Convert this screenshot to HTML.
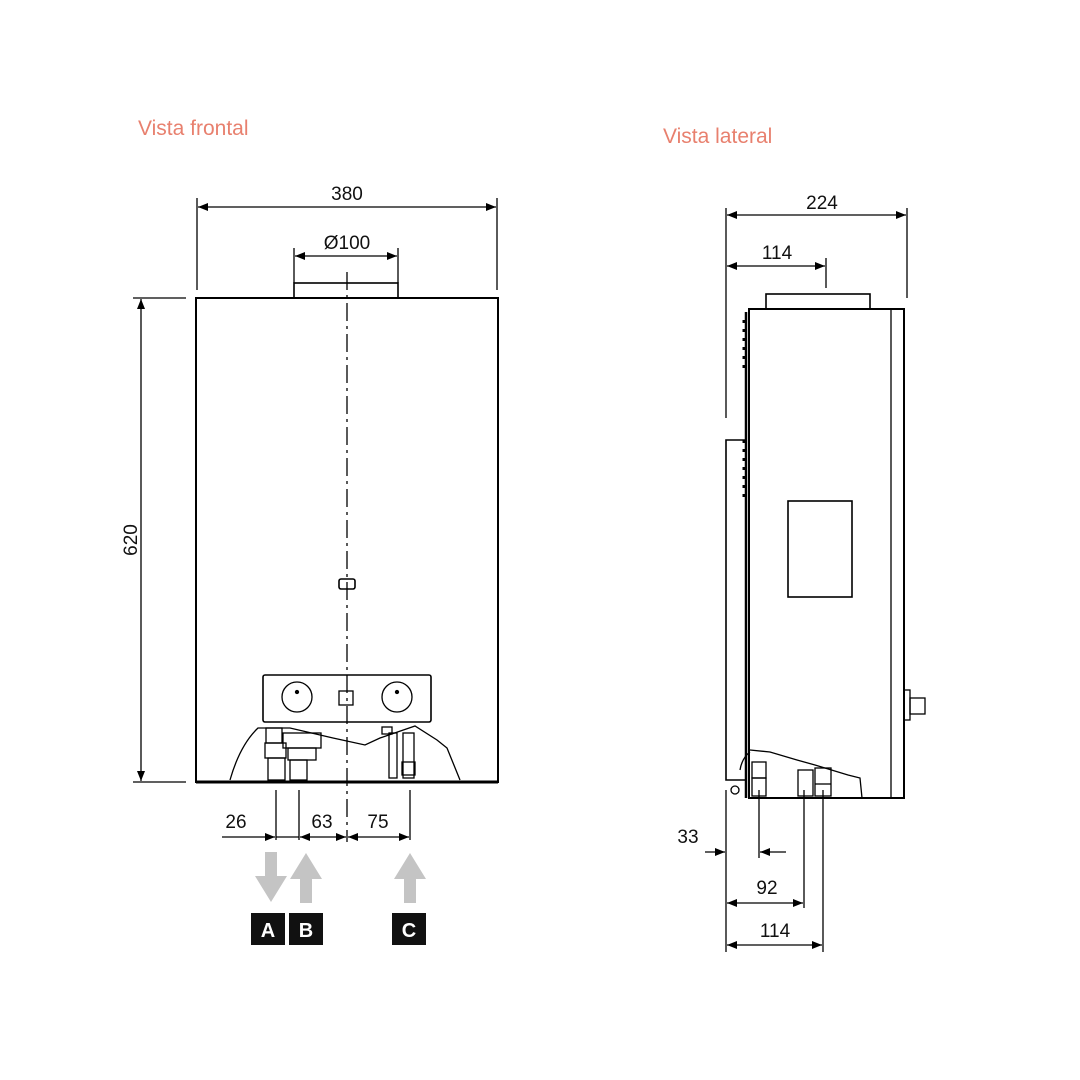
<!DOCTYPE html>
<html><head><meta charset="utf-8"><style>body{margin:0;background:#fff}svg{display:block}</style></head>
<body>
<svg width="1080" height="1080" viewBox="0 0 1080 1080" xmlns="http://www.w3.org/2000/svg" font-family="Liberation Sans, sans-serif">
<defs>
<marker id="ar" viewBox="0 0 10 10" refX="10" refY="5" markerWidth="14" markerHeight="10" orient="auto-start-reverse" markerUnits="userSpaceOnUse"><path d="M0,1 L10,5 L0,9 z" fill="#000"/></marker>
</defs>
<text x="138" y="135" font-size="21" fill="#e8806e">Vista frontal</text>
<text x="663" y="143" font-size="21" fill="#e8806e">Vista lateral</text>

<g stroke="#000" fill="none" stroke-width="1.3">
<!-- front dims -->
<line x1="197" y1="198" x2="197" y2="290"/><line x1="497" y1="198" x2="497" y2="290"/>
<line x1="198" y1="207" x2="496" y2="207" marker-start="url(#ar)" marker-end="url(#ar)"/>
<line x1="294" y1="248" x2="294" y2="283"/><line x1="398" y1="248" x2="398" y2="283"/>
<line x1="295" y1="256" x2="397" y2="256" marker-start="url(#ar)" marker-end="url(#ar)"/>
<line x1="133" y1="298" x2="186" y2="298"/><line x1="133" y1="782" x2="186" y2="782"/>
<line x1="141" y1="299" x2="141" y2="781" marker-start="url(#ar)" marker-end="url(#ar)"/>
<!-- front body -->
<rect x="196" y="298" width="302" height="484" stroke-width="2"/>
<line x1="196" y1="782" x2="498" y2="782" stroke-width="3"/>
<rect x="294" y="283" width="104" height="15" stroke-width="1.6"/>
<line x1="347" y1="272" x2="347" y2="842" stroke-dasharray="18,5,3,5"/>
<rect x="339" y="579" width="16" height="10" rx="2" stroke-width="1.6"/>
<rect x="263" y="675" width="168" height="47" rx="2" stroke-width="1.6"/>
<circle cx="297" cy="697" r="15"/><circle cx="397" cy="697" r="15"/>
<circle cx="297" cy="692" r="1.5" fill="#000"/><circle cx="397" cy="692" r="1.5" fill="#000"/>
<rect x="339" y="691" width="14" height="14"/>
<path d="M230,780 Q240,745 258,728 L290,728 L333,738 L365,745 L380,738 L415,726 L437,740 L447,748 L460,780"/>
<rect x="266" y="728" width="16" height="15"/><rect x="265" y="743" width="21" height="15"/>
<rect x="268" y="758" width="17" height="22"/><rect x="290" y="760" width="17" height="20"/>
<rect x="288" y="748" width="28" height="12"/><rect x="283" y="733" width="38" height="15"/>
<rect x="382" y="727" width="10" height="7"/><rect x="389" y="733" width="8" height="45"/><rect x="403" y="733" width="11" height="45"/><rect x="402" y="762" width="13" height="13"/>
<!-- front bottom dims -->
<line x1="276" y1="790" x2="276" y2="840"/><line x1="299" y1="790" x2="299" y2="840"/><line x1="410" y1="790" x2="410" y2="840"/>
<line x1="222" y1="837" x2="275" y2="837" marker-end="url(#ar)"/>
<line x1="276" y1="837" x2="299" y2="837"/>
<line x1="300" y1="837" x2="346" y2="837" marker-start="url(#ar)" marker-end="url(#ar)"/>
<line x1="348" y1="837" x2="409" y2="837" marker-start="url(#ar)" marker-end="url(#ar)"/>

<!-- side -->
<line x1="726" y1="208" x2="726" y2="418"/><line x1="907" y1="208" x2="907" y2="298"/>
<line x1="727" y1="215" x2="906" y2="215" marker-start="url(#ar)" marker-end="url(#ar)"/>
<line x1="826" y1="258" x2="826" y2="288"/>
<line x1="727" y1="266" x2="825" y2="266" marker-start="url(#ar)" marker-end="url(#ar)"/>
<rect x="766" y="294" width="104" height="15" stroke-width="1.6"/>
<rect x="749" y="309" width="155" height="489" stroke-width="2"/>
<line x1="891" y1="309" x2="891" y2="798"/>
<line x1="746" y1="312" x2="746" y2="798" stroke-width="2.5"/>
<path d="M746,440 L726,440 L726,780 L746,780" stroke-width="1.6"/>
<rect x="788" y="501" width="64" height="96" stroke-width="1.6"/>
<rect x="904" y="690" width="6" height="30"/><rect x="910" y="698" width="15" height="16"/>
<path d="M750,750 L770,752 L797,760 L815,765 L848,775 L860,778 L862,798"/>
<path d="M740,770 Q742,758 750,752"/>
<rect x="752" y="762" width="14" height="16"/><rect x="752" y="778" width="14" height="18"/>
<rect x="798" y="770" width="15" height="26"/><rect x="815" y="768" width="16" height="28"/>
<line x1="815" y1="784" x2="831" y2="784"/>
<circle cx="735" cy="790" r="4"/>
<line x1="726" y1="790" x2="726" y2="952"/><line x1="759" y1="790" x2="759" y2="858"/>
<line x1="804" y1="790" x2="804" y2="908"/><line x1="823" y1="790" x2="823" y2="952"/>
<line x1="705" y1="852" x2="725" y2="852" marker-end="url(#ar)"/>
<line x1="786" y1="852" x2="760" y2="852" marker-end="url(#ar)"/>
<line x1="727" y1="903" x2="803" y2="903" marker-start="url(#ar)" marker-end="url(#ar)"/>
<line x1="727" y1="945" x2="822" y2="945" marker-start="url(#ar)" marker-end="url(#ar)"/>
</g>
<g stroke="#000" stroke-width="3" fill="none">
<path d="M744,320 v50 M744,440 v60" stroke-dasharray="3,6"/>
</g>

<!-- arrows -->
<g fill="#c4c4c4">
<path d="M265,852 h12 v24 h10 l-16,26 l-16,-26 h10 z"/>
<path d="M300,903 h12 v-24 h10 l-16,-26 l-16,26 h10 z"/>
<path d="M404,903 h12 v-24 h10 l-16,-26 l-16,26 h10 z"/>
</g>
<g font-size="20" font-weight="bold" fill="#fff" text-anchor="middle">
<rect x="251" y="913" width="34" height="32" fill="#111"/><text x="268" y="937">A</text>
<rect x="289" y="913" width="34" height="32" fill="#111"/><text x="306" y="937">B</text>
<rect x="392" y="913" width="34" height="32" fill="#111"/><text x="409" y="937">C</text>
</g>
<g font-size="19" fill="#111" text-anchor="middle">
<text x="347" y="200">380</text>
<text x="347" y="249">Ø100</text>
<text x="137" y="540" transform="rotate(-90 137 540)">620</text>
<text x="236" y="828">26</text>
<text x="322" y="828">63</text>
<text x="378" y="828">75</text>
<text x="822" y="209">224</text>
<text x="777" y="259">114</text>
<text x="688" y="843">33</text>
<text x="767" y="894">92</text>
<text x="775" y="937">114</text>
</g>
</svg>
</body></html>
